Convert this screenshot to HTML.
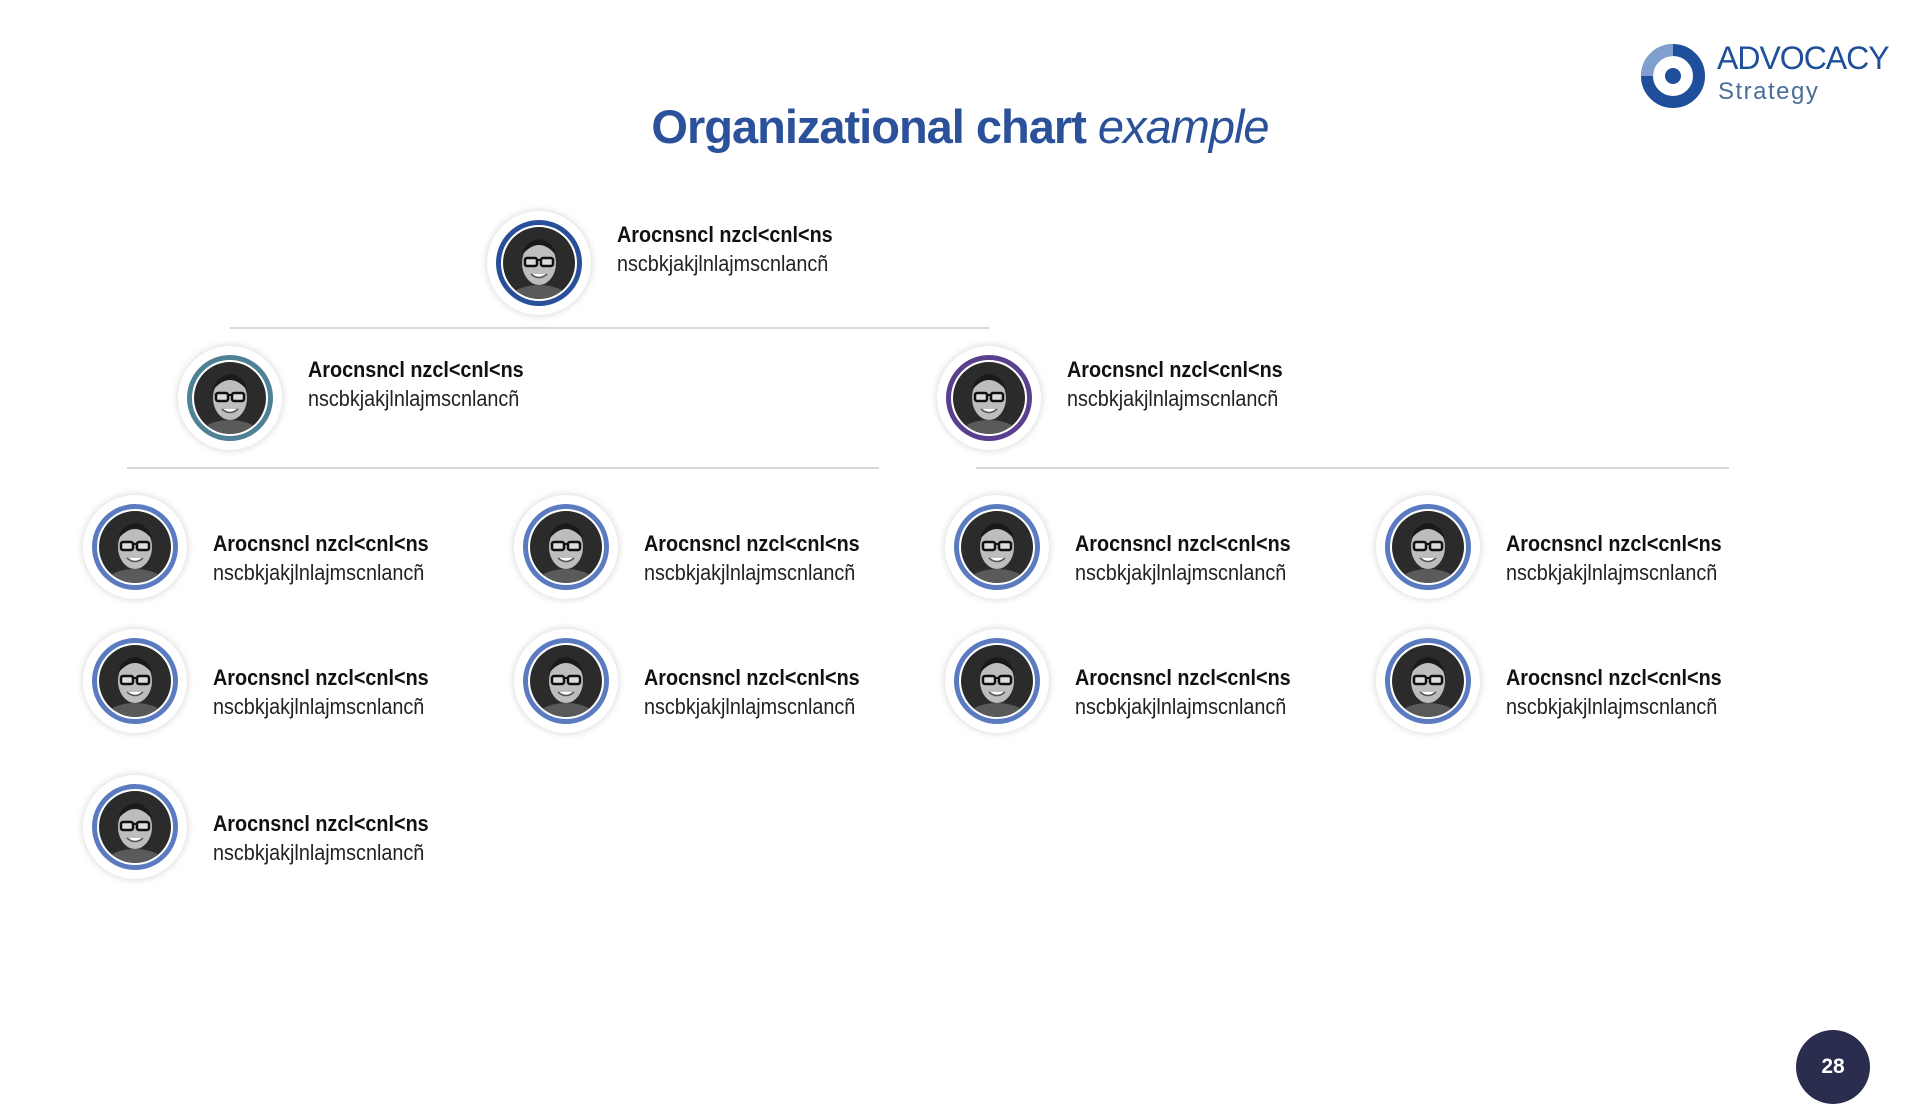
<!DOCTYPE html>
<html><head><meta charset="utf-8">
<style>
body{margin:0;width:1920px;height:1080px;background:#fff;position:relative;overflow:hidden;font-family:"Liberation Sans",sans-serif}
.title{position:absolute;left:0;width:1920px;top:99px;text-align:center;font-size:47px;color:#2a5199;font-weight:bold;letter-spacing:-1px}
.title i{font-weight:normal}
.line{position:absolute;height:2px;background:#d9d9d9}
.node{position:absolute;width:0;height:0}
.outer{position:absolute;left:-52px;top:-52px;width:104px;height:104px;border-radius:50%;background:#fff;box-shadow:0 0 8px rgba(0,0,0,.18)}
.ring{position:absolute;left:-43px;top:-43px;width:76px;height:76px;border-radius:50%;border:5px solid #5a7bc0;background:#fff;padding:0}
.ph{position:absolute;left:-36px;top:-36px;width:72px;height:72px;border-radius:50%;overflow:hidden}
.t{position:absolute;white-space:nowrap;transform-origin:0 0;transform:scaleX(.9);color:#111}
.t b{display:block;font-size:22px;line-height:22px;position:absolute;top:-18px}
.t span{display:block;font-size:22px;line-height:22px;position:absolute;top:11px;color:#222}
</style></head><body>
<svg width="0" height="0" style="position:absolute">
<defs>
<symbol id="face" viewBox="0 0 72 72">
<rect width="72" height="72" fill="#2b2b2b"/>
<ellipse cx="36" cy="78" rx="34" ry="20" fill="#5a5a5a"/>
<ellipse cx="36" cy="36" rx="17" ry="22" fill="#bdbdbd"/>
<path d="M19 28 Q36 8 53 28 Q50 14 36 12 Q22 14 19 28Z" fill="#1a1a1a"/>
<rect x="22" y="31" width="12" height="8" rx="2" fill="#ddd" stroke="#111" stroke-width="2.5"/>
<rect x="38" y="31" width="12" height="8" rx="2" fill="#ddd" stroke="#111" stroke-width="2.5"/>
<line x1="34" y1="33" x2="38" y2="33" stroke="#111" stroke-width="2"/>
<path d="M28 47 Q36 54 44 47" fill="#fff" stroke="#555" stroke-width="1.5"/>
</symbol>
</defs></svg>

<div class="title">Organizational chart <i>example</i></div>

<svg style="position:absolute;left:1635px;top:40px" width="80" height="72" viewBox="0 0 80 72">
<circle cx="38" cy="36" r="26" fill="none" stroke="#1f4f9a" stroke-width="12"/>
<path d="M12 36 A26 26 0 0 1 38 10" fill="none" stroke="#7f9fcf" stroke-width="12"/>
<circle cx="38" cy="36" r="8" fill="#1f4f9a"/>
</svg>
<div style="position:absolute;left:1717px;top:40px;font-size:32px;color:#1f4f9a;letter-spacing:-1px">ADVOCACY</div>
<div style="position:absolute;left:1718px;top:78px;font-size:24px;color:#4a6d9a;letter-spacing:1.5px">Strategy</div>

<div class="line" style="left:230px;width:759px;top:327px"></div>
<div class="line" style="left:127px;width:752px;top:467px"></div>
<div class="line" style="left:976px;width:753px;top:467px"></div>

<div style="position:absolute;left:1796px;top:1030px;width:74px;height:74px;border-radius:50%;background:#2b2d4f;color:#fff;font-weight:bold;font-size:21px;text-align:center;line-height:74px;box-sizing:border-box;padding-bottom:22px">28</div>

<div id="nodes"></div>
<script>
var N=[
[539,263,'#2a4f9a',-25],
[230,398,'#4e8096',-25],[989,398,'#5b3f8f',-25],
[135,547],[566,547],[997,547],[1428,547],
[135,681],[566,681],[997,681],[1428,681],
[135,827]
];
var h='';
N.forEach(function(n){
 var c=n[2]||'#5a7bc0';
 var dy=4+(n[3]||0);
 h+='<div class="node" style="left:'+n[0]+'px;top:'+n[1]+'px"><div class="outer"></div><div class="ring" style="border-color:'+c+'"></div><div class="ph"><svg width="72" height="72"><use href="#face"/></svg></div>'+
 '<div class="t" style="left:78px;top:'+dy+'px"><b>Arocnsncl nzcl&lt;cnl&lt;ns</b><span>nscbkjakjlnlajmscnlancñ</span></div></div>';
});
document.getElementById('nodes').innerHTML=h;
</script>
</body></html>
